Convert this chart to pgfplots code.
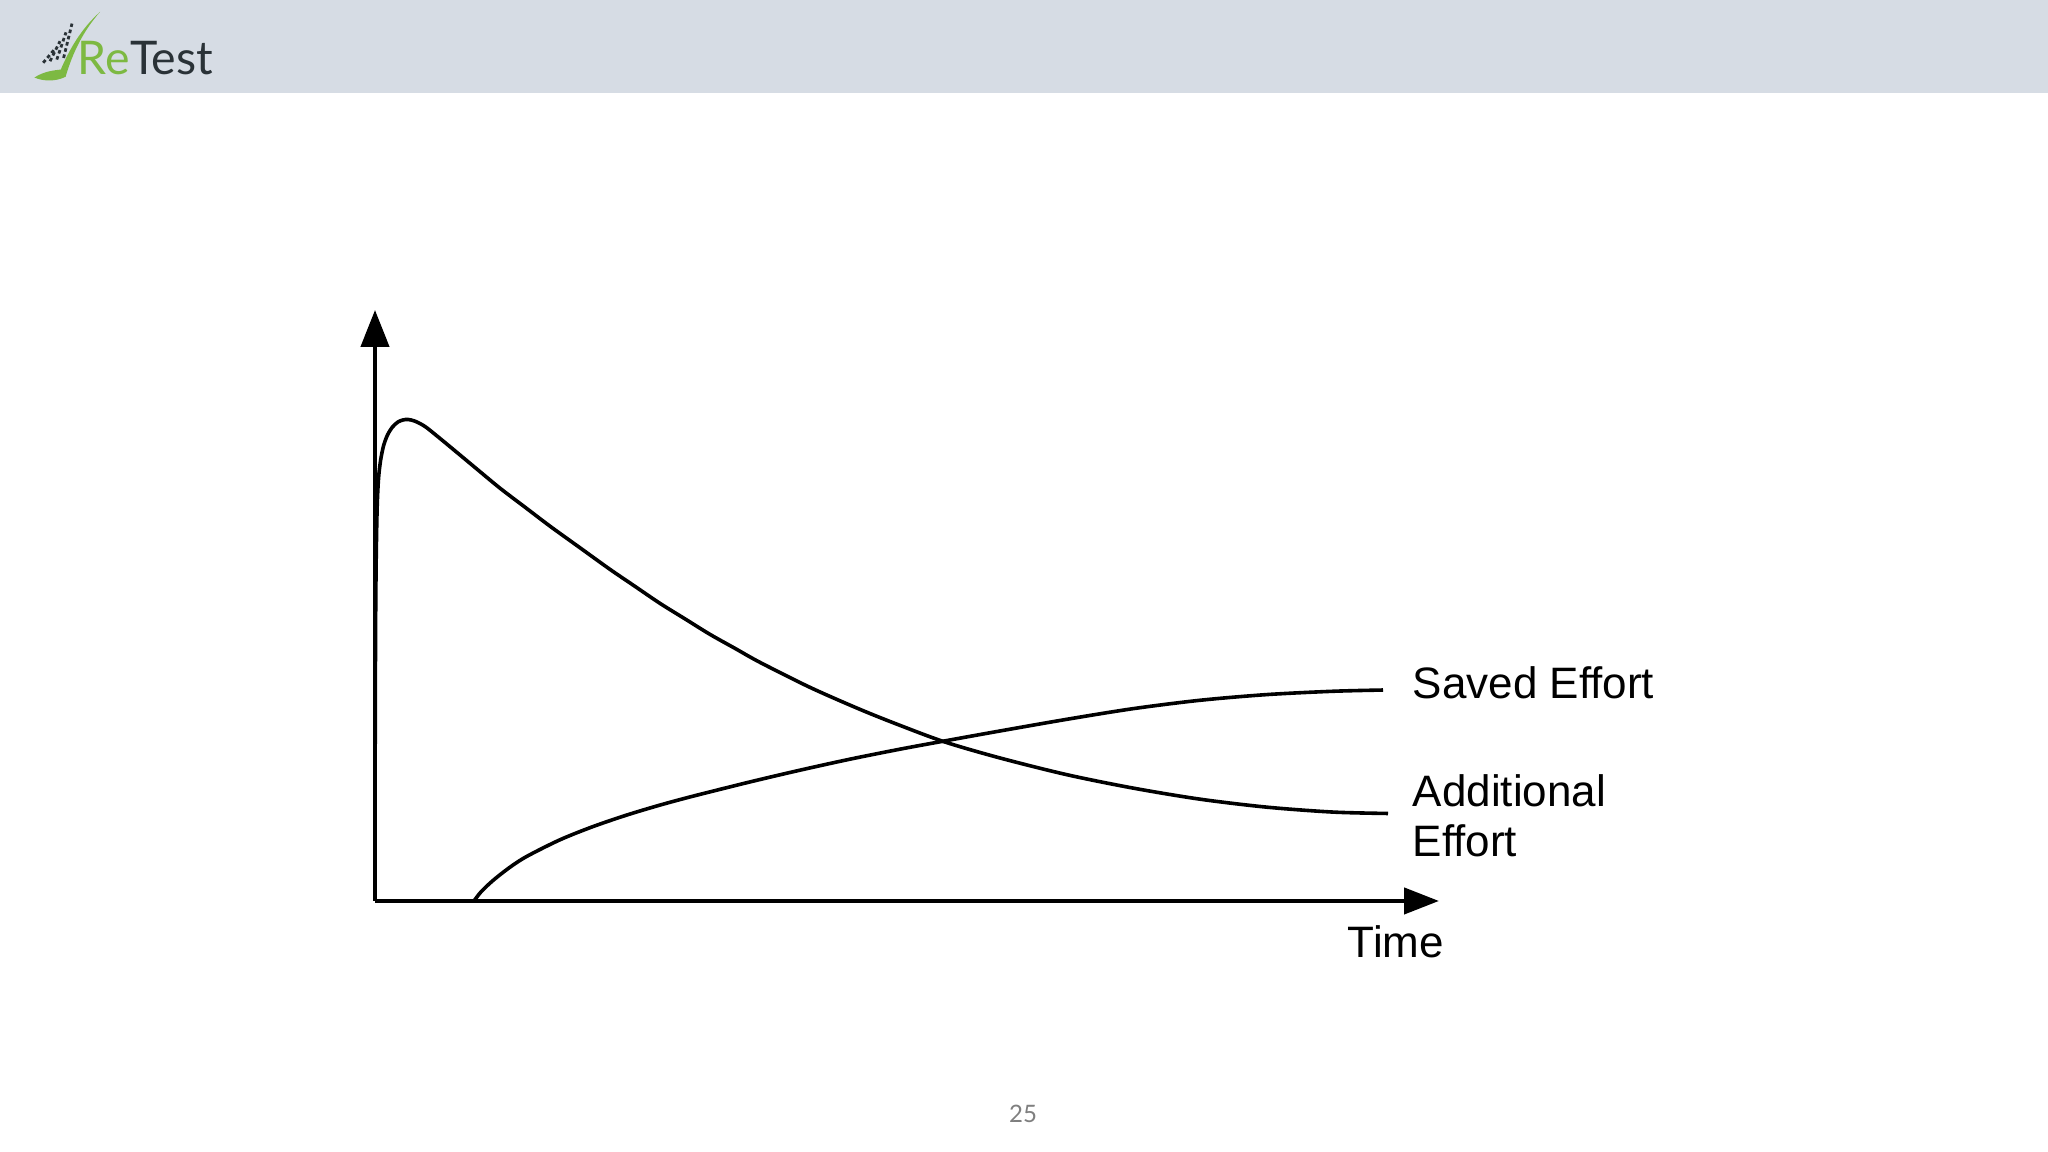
\documentclass[border=0pt]{standalone}
\usepackage{pgfplots}
\pgfplotsset{compat=1.18}
\usetikzlibrary{arrows.meta}
\usepackage{fontspec}
\setmainfont{Liberation Sans}
\newfontfamily\logofont{Lato}
\definecolor{headerbg}{HTML}{D6DCE4}
\definecolor{logogreen}{HTML}{7DB942}
\definecolor{logodark}{HTML}{2A3237}
\definecolor{pagegray}{HTML}{7F7F7F}

\begin{document}
\begin{tikzpicture}
\fill[white] (0pt,0pt) rectangle (512pt,288pt);
\useasboundingbox (0pt,0pt) rectangle (512pt,288pt);
\fill[headerbg] (0pt,264.75pt) rectangle (512pt,288pt);

% logo
\begin{scope}[x=1pt,y=1pt]
  \fill[logogreen] (8.6,268.6) .. controls (11,270.2) and (13.5,270.4) .. (15.2,270.6)
     .. controls (17.5,276) and (20.5,281) .. (25,285)
     .. controls (21,280.5) and (18.2,275) .. (16.4,268.8)
     .. controls (14,267.6) and (11,267.6) .. cycle;
  \foreach \i in {0,1,2,3}{
    \draw[logodark, line width=0.7pt, dash pattern=on 0.9pt off 0.7pt]
      ({10.8+1.7*\i},{272.3+0.4*\i}) -- ({13.5+1.5*\i},{275.5+2.2*\i});
  }
  \node[anchor=base west, inner sep=0pt, font=\logofont\fontsize{11.6}{13}\selectfont]
    at (19.3,269.3) {\textcolor{logogreen}{Re}\textcolor{logodark}{Test}};
\end{scope}

\begin{axis}[
  at={(93.75pt,62.75pt)}, anchor=origin,
  scale only axis, width=266pt, height=147.75pt,
  xmin=0, xmax=1064, ymin=0, ymax=591,
  axis lines=left, xtick=\empty, ytick=\empty,
  clip=false,
  axis line style={line width=1.1pt, black},
  x axis line style={-{Triangle[length=8.75pt,width=6.5pt]}},
  y axis line style={-{Triangle[length=9.25pt,width=7pt]}},
]
% Additional Effort
\addplot[black, line width=0.9pt, smooth] coordinates {
 (0,0) (0.1,100) (0.3,200) (0.7,290) (1.3,350) (2.2,395) (3.5,422) (5.5,440)
 (8.5,455) (12.5,466) (17.5,474) (23,479) (28,481) (33,481.5) (40,479.8)
 (50,474.5) (62,465) (75,454.3) (100,433.5) (125,412.8) (150,393.8)
 (175,374.8) (205,353.2) (235,331.6) (260,314.6) (285,297.6) (310,282.1)
 (335,266.6) (360,252.6) (385,238.6) (435,213.6) (485,191.6) (525,175.6)
 (570,158.95) (625,143) (692,126.25) (758,112.9) (825,101.8) (892,93.8)
 (958,88.9) (1013,87.5)
};
% Saved Effort
\addplot[black, line width=0.9pt, smooth] coordinates {
 (99,0) (106,9.1) (118,20.5) (135,33.8) (152,44.7) (185,61.2) (218,74.4)
 (252,86) (285,95.9) (318,104.8) (375,119.05) (425,130.8) (475,141.8)
 (525,151.8) (570,160.1) (625,170) (692,181.7) (758,192.3) (825,200.7)
 (892,206.4) (958,209.7) (1008,210.95)
};
\end{axis}

\begin{scope}[x=1pt,y=1pt, every node/.style={inner sep=0pt, anchor=base west}]
  \node[font=\fontsize{11}{12.5}\selectfont] at (353,113.25) {Saved Effort};
  \node[font=\fontsize{11}{12.5}\selectfont] at (353,86.25) {Additional};
  \node[font=\fontsize{11}{12.5}\selectfont] at (353,73.75) {Effort};
  \node[font=\fontsize{11}{12.5}\selectfont] at (336.75,48.5) {Time};
  \node[anchor=base, font=\logofont\fontsize{6}{7}\selectfont, text=pagegray] at (255.75,7.25) {25};
\end{scope}
\end{tikzpicture}
\end{document}
